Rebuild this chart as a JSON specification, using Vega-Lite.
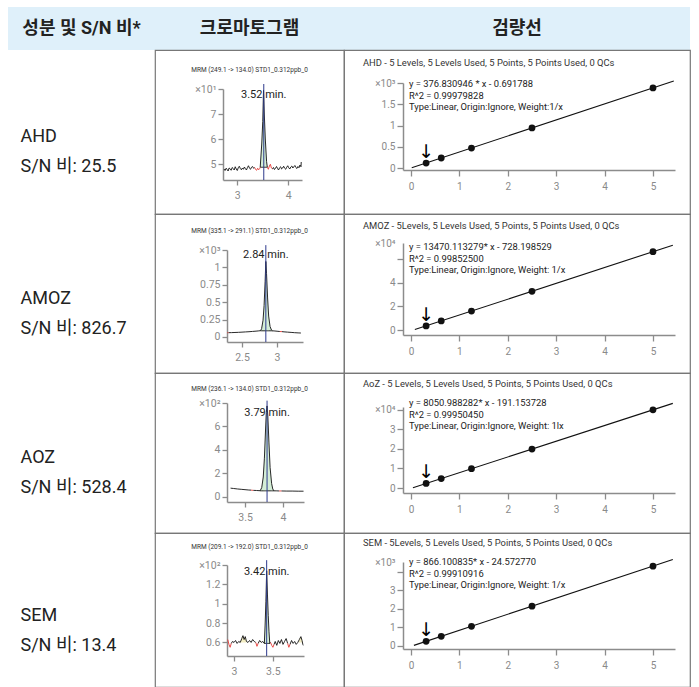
{
  "$schema": "https://vega.github.io/schema/vega-lite/v6.json",
  "padding": {"left": 8, "top": 7, "right": 0, "bottom": 0},
  "bounds": "flush",
  "spacing": 0,
  "columns": 3,
  "config": {
    "font": "Roboto",
    "view": {"stroke": "#777777", "strokeWidth": 1.2},
    "concat": {"spacing": 0},
    "axis": {"domainColor": "#8c8c8c", "domainWidth": 1.5, "tickColor": "#8c8c8c", "tickWidth": 1.3, "tickSize": 5, "tickCount": 30, "labelColor": "#8a8a8a", "labelFont": "Roboto", "labelFontSize": 10, "titleColor": "#8a8a8a", "titleFont": "Roboto", "titleFontSize": 10.5, "titleFontWeight": "normal", "grid": false, "labelFlush": false, "labelOverlap": false, "labelBound": false},
    "axisX": {"labelPadding": 5, "labelExpr": "'' + datum.value"},
    "axisY": {"labelPadding": 2}
  },
  "datasets": {
    "ahd_trace": [
      {"t":2.74,"v":48.0,"seg":"n1","kind":"noise"},{"t":2.76,"v":47.4,"seg":"n1","kind":"noise"},{"t":2.78,"v":48.3,"seg":"n1","kind":"noise"},{"t":2.80,"v":47.9,"seg":"n1","kind":"noise"},{"t":2.82,"v":47.2,"seg":"n1","kind":"noise"},{"t":2.84,"v":48.4,"seg":"n1","kind":"noise"},{"t":2.86,"v":48.1,"seg":"n1","kind":"noise"},{"t":2.88,"v":47.5,"seg":"n1","kind":"noise"},{"t":2.90,"v":48.6,"seg":"n1","kind":"noise"},{"t":2.92,"v":48.2,"seg":"n1","kind":"noise"},{"t":2.94,"v":47.6,"seg":"n1","kind":"noise"},{"t":2.96,"v":48.9,"seg":"n1","kind":"noise"},{"t":2.98,"v":48.0,"seg":"n1","kind":"noise"},{"t":3.00,"v":47.4,"seg":"n1","kind":"noise"},{"t":3.02,"v":48.5,"seg":"n1","kind":"noise"},{"t":3.04,"v":49.1,"seg":"n1","kind":"noise"},{"t":3.06,"v":48.2,"seg":"n1","kind":"noise"},{"t":3.08,"v":47.7,"seg":"n1","kind":"noise"},{"t":3.10,"v":48.4,"seg":"n1","kind":"noise"},{"t":3.12,"v":47.9,"seg":"n1","kind":"noise"},{"t":3.14,"v":48.8,"seg":"n1","kind":"noise"},{"t":3.16,"v":48.1,"seg":"n1","kind":"noise"},{"t":3.18,"v":47.6,"seg":"n1","kind":"noise"},{"t":3.20,"v":48.6,"seg":"n1","kind":"noise"},{"t":3.22,"v":49.3,"seg":"n1","kind":"noise"},{"t":3.24,"v":48.3,"seg":"n1","kind":"noise"},{"t":3.26,"v":47.9,"seg":"n1","kind":"noise"},{"t":3.28,"v":48.7,"seg":"n1","kind":"noise"},{"t":3.30,"v":49.0,"seg":"n1","kind":"noise"},{"t":3.32,"v":48.3,"seg":"n1","kind":"noise"},{"t":3.34,"v":48.6,"seg":"n1","kind":"noise"},
      {"t":3.34,"v":48.6,"seg":"r1","kind":"marked"},{"t":3.36,"v":47.8,"seg":"r1","kind":"marked"},{"t":3.38,"v":47.5,"seg":"r1","kind":"marked"},{"t":3.40,"v":48.3,"seg":"r1","kind":"marked"},{"t":3.42,"v":47.7,"seg":"r1","kind":"marked"},{"t":3.44,"v":48.2,"seg":"r1","kind":"marked"},{"t":3.45,"v":48.7,"seg":"r1","kind":"marked"},
      {"t":3.59,"v":48.7,"seg":"r2","kind":"marked"},{"t":3.61,"v":47.9,"seg":"r2","kind":"marked"},{"t":3.63,"v":49.2,"seg":"r2","kind":"marked"},{"t":3.65,"v":49.9,"seg":"r2","kind":"marked"},{"t":3.67,"v":48.4,"seg":"r2","kind":"marked"},{"t":3.69,"v":48.0,"seg":"r2","kind":"marked"},
      {"t":3.69,"v":48.0,"seg":"n2","kind":"noise"},{"t":3.71,"v":48.6,"seg":"n2","kind":"noise"},{"t":3.73,"v":47.8,"seg":"n2","kind":"noise"},{"t":3.75,"v":48.3,"seg":"n2","kind":"noise"},{"t":3.77,"v":49.0,"seg":"n2","kind":"noise"},{"t":3.79,"v":48.2,"seg":"n2","kind":"noise"},{"t":3.81,"v":47.6,"seg":"n2","kind":"noise"},{"t":3.83,"v":48.5,"seg":"n2","kind":"noise"},{"t":3.85,"v":48.9,"seg":"n2","kind":"noise"},{"t":3.87,"v":48.0,"seg":"n2","kind":"noise"},{"t":3.89,"v":48.4,"seg":"n2","kind":"noise"},{"t":3.91,"v":49.1,"seg":"n2","kind":"noise"},{"t":3.93,"v":48.3,"seg":"n2","kind":"noise"},{"t":3.95,"v":47.9,"seg":"n2","kind":"noise"},{"t":3.97,"v":48.7,"seg":"n2","kind":"noise"},{"t":3.99,"v":49.3,"seg":"n2","kind":"noise"},{"t":4.01,"v":48.5,"seg":"n2","kind":"noise"},{"t":4.03,"v":48.0,"seg":"n2","kind":"noise"},{"t":4.05,"v":48.8,"seg":"n2","kind":"noise"},{"t":4.07,"v":49.2,"seg":"n2","kind":"noise"},{"t":4.09,"v":48.4,"seg":"n2","kind":"noise"},{"t":4.11,"v":48.9,"seg":"n2","kind":"noise"},{"t":4.13,"v":49.4,"seg":"n2","kind":"noise"},{"t":4.15,"v":48.6,"seg":"n2","kind":"noise"},{"t":4.17,"v":48.2,"seg":"n2","kind":"noise"},{"t":4.19,"v":49.0,"seg":"n2","kind":"noise"},{"t":4.21,"v":48.5,"seg":"n2","kind":"noise"},{"t":4.23,"v":49.6,"seg":"n2","kind":"noise"},{"t":4.25,"v":48.9,"seg":"n2","kind":"noise"},{"t":4.255,"v":50.8,"seg":"n2","kind":"noise"}
    ],
    "ahd_peak": [
      {"t":3.45,"v":48.7,"base":48.7},{"t":3.48,"v":58,"base":48.7},{"t":3.50,"v":67,"base":48.7},{"t":3.515,"v":79.5,"base":48.7},{"t":3.53,"v":70,"base":48.7},{"t":3.55,"v":60,"base":48.7},{"t":3.575,"v":51,"base":48.7},{"t":3.59,"v":48.7,"base":48.7}
    ],
    "amoz_trace": [
      {"t":2.29,"v":60,"seg":"r1","kind":"marked"},{"t":2.31,"v":61,"seg":"r1","kind":"marked"},
      {"t":2.31,"v":61,"seg":"n1","kind":"noise"},{"t":2.35,"v":62,"seg":"n1","kind":"noise"},{"t":2.40,"v":64,"seg":"n1","kind":"noise"},{"t":2.45,"v":66,"seg":"n1","kind":"noise"},{"t":2.50,"v":69,"seg":"n1","kind":"noise"},{"t":2.55,"v":72,"seg":"n1","kind":"noise"},{"t":2.60,"v":75,"seg":"n1","kind":"noise"},{"t":2.65,"v":79,"seg":"n1","kind":"noise"},{"t":2.70,"v":83,"seg":"n1","kind":"noise"},{"t":2.74,"v":87,"seg":"n1","kind":"noise"},{"t":2.765,"v":90,"seg":"n1","kind":"noise"},
      {"t":2.935,"v":88,"seg":"n2","kind":"noise"},{"t":2.97,"v":85,"seg":"n2","kind":"noise"},{"t":3.00,"v":82,"seg":"n2","kind":"noise"},{"t":3.04,"v":78,"seg":"n2","kind":"noise"},
      {"t":3.04,"v":78,"seg":"r2","kind":"marked"},{"t":3.07,"v":76,"seg":"r2","kind":"marked"},
      {"t":3.07,"v":76,"seg":"n3","kind":"noise"},{"t":3.10,"v":73,"seg":"n3","kind":"noise"},{"t":3.15,"v":69,"seg":"n3","kind":"noise"},{"t":3.20,"v":65,"seg":"n3","kind":"noise"},{"t":3.25,"v":61,"seg":"n3","kind":"noise"},{"t":3.30,"v":58,"seg":"n3","kind":"noise"},{"t":3.34,"v":56,"seg":"n3","kind":"noise"}
    ],
    "amoz_peak": [
      {"t":2.765,"v":90,"base":88},{"t":2.78,"v":120,"base":88},{"t":2.80,"v":240,"base":88},{"t":2.815,"v":450,"base":88},{"t":2.83,"v":800,"base":88},{"t":2.84,"v":1085,"base":88},{"t":2.85,"v":910,"base":88},{"t":2.865,"v":560,"base":88},{"t":2.88,"v":300,"base":88},{"t":2.90,"v":150,"base":88},{"t":2.92,"v":100,"base":88},{"t":2.935,"v":88,"base":88}
    ],
    "aoz_trace": [
      {"t":3.31,"v":75,"seg":"n1","kind":"noise"},{"t":3.35,"v":72,"seg":"n1","kind":"noise"},{"t":3.40,"v":68,"seg":"n1","kind":"noise"},{"t":3.45,"v":65,"seg":"n1","kind":"noise"},{"t":3.50,"v":62,"seg":"n1","kind":"noise"},{"t":3.55,"v":59,"seg":"n1","kind":"noise"},{"t":3.58,"v":58,"seg":"n1","kind":"noise"},
      {"t":3.58,"v":58,"seg":"r1","kind":"marked"},{"t":3.61,"v":56,"seg":"r1","kind":"marked"},
      {"t":3.61,"v":56,"seg":"n2","kind":"noise"},{"t":3.65,"v":55,"seg":"n2","kind":"noise"},{"t":3.70,"v":53,"seg":"n2","kind":"noise"},
      {"t":3.88,"v":52,"seg":"n3","kind":"noise"},{"t":3.91,"v":52,"seg":"n3","kind":"noise"},{"t":3.95,"v":51,"seg":"n3","kind":"noise"},
      {"t":3.95,"v":51,"seg":"r2","kind":"marked"},{"t":3.98,"v":51,"seg":"r2","kind":"marked"},
      {"t":3.98,"v":51,"seg":"n4","kind":"noise"},{"t":4.05,"v":50,"seg":"n4","kind":"noise"},{"t":4.12,"v":50,"seg":"n4","kind":"noise"},{"t":4.20,"v":49,"seg":"n4","kind":"noise"},{"t":4.27,"v":49,"seg":"n4","kind":"noise"}
    ],
    "aoz_peak": [
      {"t":3.70,"v":53,"base":52},{"t":3.72,"v":80,"base":52},{"t":3.74,"v":170,"base":52},{"t":3.755,"v":330,"base":52},{"t":3.77,"v":570,"base":52},{"t":3.78,"v":720,"base":52},{"t":3.79,"v":775,"base":52},{"t":3.80,"v":690,"base":52},{"t":3.815,"v":460,"base":52},{"t":3.83,"v":250,"base":52},{"t":3.85,"v":115,"base":52},{"t":3.865,"v":68,"base":52},{"t":3.88,"v":52,"base":52}
    ],
    "sem_trace": [
      {"t":2.92,"v":63,"seg":"r1","kind":"marked"},{"t":2.935,"v":58,"seg":"r1","kind":"marked"},{"t":2.95,"v":55,"seg":"r1","kind":"marked"},{"t":2.965,"v":59,"seg":"r1","kind":"marked"},
      {"t":2.965,"v":59,"seg":"n1","kind":"noise"},{"t":2.98,"v":61,"seg":"n1","kind":"noise"},{"t":3.00,"v":60,"seg":"n1","kind":"noise"},{"t":3.02,"v":62,"seg":"n1","kind":"noise"},{"t":3.04,"v":59,"seg":"n1","kind":"noise"},{"t":3.06,"v":61,"seg":"n1","kind":"noise"},{"t":3.08,"v":60,"seg":"n1","kind":"noise"},{"t":3.10,"v":64,"seg":"n1","kind":"noise"},{"t":3.115,"v":67,"seg":"n1","kind":"noise"},{"t":3.13,"v":63,"seg":"n1","kind":"noise"},{"t":3.145,"v":66,"seg":"n1","kind":"noise"},{"t":3.16,"v":61,"seg":"n1","kind":"noise"},{"t":3.18,"v":60,"seg":"n1","kind":"noise"},{"t":3.20,"v":62,"seg":"n1","kind":"noise"},{"t":3.22,"v":60,"seg":"n1","kind":"noise"},{"t":3.24,"v":63,"seg":"n1","kind":"noise"},{"t":3.26,"v":61,"seg":"n1","kind":"noise"},{"t":3.28,"v":60,"seg":"n1","kind":"noise"},
      {"t":3.28,"v":60,"seg":"r2","kind":"marked"},{"t":3.295,"v":56,"seg":"r2","kind":"marked"},{"t":3.31,"v":59,"seg":"r2","kind":"marked"},
      {"t":3.31,"v":59,"seg":"n2","kind":"noise"},{"t":3.33,"v":62,"seg":"n2","kind":"noise"},{"t":3.35,"v":60,"seg":"n2","kind":"noise"},{"t":3.37,"v":61,"seg":"n2","kind":"noise"},{"t":3.39,"v":59,"seg":"n2","kind":"noise"},
      {"t":3.46,"v":59,"seg":"n3","kind":"noise"},{"t":3.47,"v":60,"seg":"n3","kind":"noise"},
      {"t":3.47,"v":60,"seg":"r3","kind":"marked"},{"t":3.485,"v":57,"seg":"r3","kind":"marked"},{"t":3.50,"v":55,"seg":"r3","kind":"marked"},{"t":3.515,"v":58,"seg":"r3","kind":"marked"},
      {"t":3.515,"v":58,"seg":"n4","kind":"noise"},{"t":3.53,"v":61,"seg":"n4","kind":"noise"},{"t":3.55,"v":57,"seg":"n4","kind":"noise"},{"t":3.57,"v":62,"seg":"n4","kind":"noise"},{"t":3.59,"v":59,"seg":"n4","kind":"noise"},{"t":3.61,"v":63,"seg":"n4","kind":"noise"},{"t":3.63,"v":58,"seg":"n4","kind":"noise"},{"t":3.65,"v":61,"seg":"n4","kind":"noise"},{"t":3.67,"v":64,"seg":"n4","kind":"noise"},{"t":3.69,"v":59,"seg":"n4","kind":"noise"},
      {"t":3.69,"v":59,"seg":"r4","kind":"marked"},{"t":3.705,"v":55,"seg":"r4","kind":"marked"},{"t":3.72,"v":58,"seg":"r4","kind":"marked"},
      {"t":3.72,"v":58,"seg":"n5","kind":"noise"},{"t":3.74,"v":62,"seg":"n5","kind":"noise"},{"t":3.76,"v":59,"seg":"n5","kind":"noise"},{"t":3.78,"v":61,"seg":"n5","kind":"noise"},{"t":3.80,"v":58,"seg":"n5","kind":"noise"},{"t":3.82,"v":60,"seg":"n5","kind":"noise"},{"t":3.84,"v":63,"seg":"n5","kind":"noise"},{"t":3.86,"v":66,"seg":"n5","kind":"noise"},{"t":3.875,"v":62,"seg":"n5","kind":"noise"},{"t":3.885,"v":58,"seg":"n5","kind":"noise"},{"t":3.89,"v":57,"seg":"n5","kind":"noise"}
    ],
    "sem_peak": [
      {"t":3.39,"v":59,"base":59},{"t":3.40,"v":78,"base":59},{"t":3.41,"v":102,"base":59},{"t":3.42,"v":134,"base":59},{"t":3.43,"v":110,"base":59},{"t":3.44,"v":88,"base":59},{"t":3.45,"v":71,"base":59},{"t":3.46,"v":59,"base":59}
    ],
    "sem_bumps": [
      {"t":3.08,"v":60,"base":60,"grp":"b1"},{"t":3.10,"v":64,"base":60,"grp":"b1"},{"t":3.115,"v":67,"base":60,"grp":"b1"},{"t":3.13,"v":63,"base":60,"grp":"b1"},{"t":3.145,"v":66,"base":60,"grp":"b1"},{"t":3.16,"v":61,"base":60,"grp":"b1"},{"t":3.165,"v":60,"base":60,"grp":"b1"},
      {"t":3.83,"v":60,"base":60,"grp":"b2"},{"t":3.84,"v":63,"base":60,"grp":"b2"},{"t":3.86,"v":66,"base":60,"grp":"b2"},{"t":3.875,"v":62,"base":60,"grp":"b2"},{"t":3.88,"v":60,"base":60,"grp":"b2"}
    ]
  },
  "concat": [
    {"width": 147, "height": 43, "view": {"fill": "#dff0fa"}, "data": {"values": [{"h": "성분 및 S/N 비*"}]}, "mark": {"type": "text", "fontSize": 18, "fontWeight": "bold", "color": "#222", "font": "Roboto, Noto Sans CJK KR", "baseline": "middle"}, "encoding": {"text": {"field": "h"}}},
    {"width": 189, "height": 43, "view": {"fill": "#dff0fa"}, "data": {"values": [{"h": "크로마토그램"}]}, "mark": {"type": "text", "fontSize": 18, "fontWeight": "bold", "color": "#222", "font": "Roboto, Noto Sans CJK KR", "baseline": "middle"}, "encoding": {"text": {"field": "h"}}},
    {"width": 346, "height": 43, "view": {"fill": "#dff0fa"}, "data": {"values": [{"h": "검량선"}]}, "mark": {"type": "text", "fontSize": 18, "fontWeight": "bold", "color": "#222", "font": "Roboto, Noto Sans CJK KR", "baseline": "middle"}, "encoding": {"text": {"field": "h"}}},

    {"width": 147, "height": 164, "data": {"values": [{"compound": "AHD", "ratio": "25.5"}]}, "transform": [{"calculate": "datum.compound + '\\n' + 'S/N 비: ' + datum.ratio", "as": "lines"}], "mark": {"type": "text", "align": "left", "baseline": "middle", "dx": -61, "dy": 5, "fontSize": 18, "lineHeight": 30, "lineBreak": "\n", "color": "#222", "font": "Roboto, Noto Sans CJK KR"}, "encoding": {"text": {"field": "lines"}}},
    {
      "width": 189, "height": 164,
      "title": {"text": "MRM (249.1 -> 134.0) STD1_0.312ppb_0", "anchor": "middle", "frame": "group", "offset": -28, "baseline": "alphabetic", "fontSize": 6.5, "fontWeight": "normal", "color": "#333", "font": "Roboto"},
      "layer": [
        {"data": {"name": "ahd_peak"}, "mark": {"type": "area", "fill": "#d4eed7", "stroke": "#111", "strokeWidth": 0.9},
         "encoding": {
           "x": {"field": "t", "type": "quantitative", "scale": {"domain": [2.72, 4.27], "range": [68, 147], "zero": false, "nice": false}, "axis": {"title": null, "values": [3, 4], "tickCount": 30, "offset": -34, "labelFontSize": 10.5, "labelOverlap": false}},
           "y": {"field": "v", "type": "quantitative", "scale": {"domain": [43.6, 80], "range": [130, 39], "zero": false, "nice": false}, "axis": {"title": null, "values": [50, 60, 70, 80], "tickCount": 30, "offset": -68, "labelFontSize": 10.5, "labelOverlap": false, "labelExpr": "datum.value >= 79 ? '×10¹' : format(datum.value / 10, 'd')"}},
           "y2": {"field": "base"}}},
        {"data": {"name": "ahd_trace"}, "mark": {"type": "line", "strokeWidth": 0.9},
         "encoding": {"x": {"field": "t", "type": "quantitative", "title": null}, "y": {"field": "v", "type": "quantitative", "title": null}, "detail": {"field": "seg"}, "color": {"field": "kind", "type": "nominal", "scale": {"domain": ["noise", "marked"], "range": ["#111111", "#e53935"]}, "legend": null}}},
        {"data": {"values": [{"t": 3.52, "label": "3.52 min."}]}, "mark": {"type": "rule", "color": "#2e3a8c", "strokeWidth": 1},
         "encoding": {"x": {"field": "t", "type": "quantitative", "title": null}, "y": {"datum": 82, "type": "quantitative"}, "y2": {"datum": 43.6}}},
        {"data": {"values": [{"t": 3.52, "label": "3.52 min."}]}, "mark": {"type": "text", "fontSize": 11, "color": "#222", "baseline": "middle", "align": "center", "dy": 6},
         "encoding": {"x": {"field": "t", "type": "quantitative", "title": null}, "y": {"datum": 80, "type": "quantitative"}, "text": {"field": "label"}}}
      ]
    },
    {
      "width": 346, "height": 164,
      "title": {"text": "AHD - 5 Levels, 5 Levels Used, 5 Points, 5 Points Used, 0 QCs", "anchor": "start", "frame": "group", "offset": -25, "dx": 19, "baseline": "alphabetic", "fontSize": 9.4, "fontWeight": "normal", "color": "#333", "font": "Roboto"},
      "layer": [
        {"data": {"values": [{"c": 0.015, "r": 5}, {"c": 5.43, "r": 2046}]}, "mark": {"type": "line", "color": "#111", "strokeWidth": 1.1},
         "encoding": {
           "x": {"field": "c", "type": "quantitative", "scale": {"domain": [-0.165, 5.455], "range": [59, 331], "zero": false, "nice": false}, "axis": {"title": "Concentration (ng/ml)", "titlePadding": 1, "values": [0, 1, 2, 3, 4, 5], "tickCount": 30, "offset": -44, "tickSize": 6, "labelOverlap": false}},
           "y": {"field": "r", "type": "quantitative", "scale": {"domain": [-47, 2000], "range": [120, 33], "zero": false, "nice": false}, "axis": {"title": "Responses", "titlePadding": 4, "values": [0, 500, 1000, 1500, 2000], "tickCount": 30, "offset": -59, "tickSize": 6, "labelOverlap": false, "labelExpr": "datum.value == 2000 ? '×10³' : '' + (datum.value / 1000)"}}}},
        {"data": {"values": [{"c": 0.3125, "r": 117}, {"c": 0.625, "r": 235}, {"c": 1.25, "r": 470}, {"c": 2.5, "r": 942}, {"c": 5, "r": 1884}]}, "mark": {"type": "circle", "size": 46, "color": "#111", "opacity": 1},
         "encoding": {"x": {"field": "c", "type": "quantitative", "title": null}, "y": {"field": "r", "type": "quantitative", "title": null}}},
        {"data": {"values": [{"c": 0.3125, "r": 117}]}, "mark": {"type": "text", "font": "DejaVu Sans", "fontSize": 19, "baseline": "bottom", "dy": -1, "color": "#000"},
         "encoding": {"x": {"field": "c", "type": "quantitative", "title": null}, "y": {"field": "r", "type": "quantitative", "title": null}, "text": {"value": "↓"}}},
        {"data": {"values": [{"lines": "y = 376.830946 * x - 0.691788\nR^2 = 0.99979828\nType:Linear, Origin:Ignore, Weight:1/x"}]}, "mark": {"type": "text", "align": "left", "baseline": "top", "fontSize": 9.4, "lineHeight": 11.5, "lineBreak": "\n", "dx": 6, "dy": -3, "color": "#222"},
         "encoding": {"x": {"datum": -0.165, "type": "quantitative"}, "y": {"datum": 2000, "type": "quantitative"}, "text": {"field": "lines"}}}
      ]
    },

    {"width": 147, "height": 159, "data": {"values": [{"compound": "AMOZ", "ratio": "826.7"}]}, "transform": [{"calculate": "datum.compound + '\\n' + 'S/N 비: ' + datum.ratio", "as": "lines"}], "mark": {"type": "text", "align": "left", "baseline": "middle", "dx": -61, "dy": 5, "fontSize": 18, "lineHeight": 30, "lineBreak": "\n", "color": "#222", "font": "Roboto, Noto Sans CJK KR"}, "encoding": {"text": {"field": "lines"}}},
    {
      "width": 189, "height": 159,
      "title": {"text": "MRM (335.1 -> 291.1) STD1_0.312ppb_0", "anchor": "middle", "frame": "group", "offset": -25, "baseline": "alphabetic", "fontSize": 6.5, "fontWeight": "normal", "color": "#333", "font": "Roboto"},
      "layer": [
        {"data": {"name": "amoz_peak"}, "mark": {"type": "area", "fill": "#d4eed7", "stroke": "#111", "strokeWidth": 0.9},
         "encoding": {
           "x": {"field": "t", "type": "quantitative", "scale": {"domain": [2.286, 3.37], "range": [72, 148], "zero": false, "nice": false}, "axis": {"title": null, "values": [2.5, 3], "tickCount": 30, "offset": -31, "labelFontSize": 10.5, "labelOverlap": false}},
           "y": {"field": "v", "type": "quantitative", "scale": {"domain": [-73, 1250], "range": [128, 36], "zero": false, "nice": false}, "axis": {"title": null, "values": [0, 250, 500, 750, 1000, 1250], "tickCount": 30, "offset": -72, "labelFontSize": 10.5, "labelOverlap": false, "labelExpr": "datum.value == 1250 ? '×10³' : '' + (datum.value / 1000)"}},
           "y2": {"field": "base"}}},
        {"data": {"name": "amoz_trace"}, "mark": {"type": "line", "strokeWidth": 0.9},
         "encoding": {"x": {"field": "t", "type": "quantitative", "title": null}, "y": {"field": "v", "type": "quantitative", "title": null}, "detail": {"field": "seg"}, "color": {"field": "kind", "type": "nominal", "scale": {"domain": ["noise", "marked"], "range": ["#111111", "#e53935"]}, "legend": null}}},
        {"data": {"values": [{"t": 2.84, "label": "2.84 min."}]}, "mark": {"type": "rule", "color": "#2e3a8c", "strokeWidth": 1},
         "encoding": {"x": {"field": "t", "type": "quantitative", "title": null}, "y": {"datum": 1320, "type": "quantitative"}, "y2": {"datum": -73}}},
        {"data": {"values": [{"t": 2.84, "label": "2.84 min."}]}, "mark": {"type": "text", "fontSize": 11, "color": "#222", "baseline": "middle", "align": "center", "dy": 5},
         "encoding": {"x": {"field": "t", "type": "quantitative", "title": null}, "y": {"datum": 1250, "type": "quantitative"}, "text": {"field": "label"}}}
      ]
    },
    {
      "width": 346, "height": 159,
      "title": {"text": "AMOZ - 5Levels, 5 Levels Used, 5 Points, 5 Points Used, 0 QCs", "anchor": "start", "frame": "group", "offset": -24, "dx": 19, "baseline": "alphabetic", "fontSize": 9.4, "fontWeight": "normal", "color": "#333", "font": "Roboto"},
      "layer": [
        {"data": {"values": [{"c": 0.08, "r": 350}, {"c": 5.41, "r": 72145}]}, "mark": {"type": "line", "color": "#111", "strokeWidth": 1.1},
         "encoding": {
           "x": {"field": "c", "type": "quantitative", "scale": {"domain": [-0.165, 5.455], "range": [59, 331], "zero": false, "nice": false}, "axis": {"title": "Concentration (ng/ml)", "titlePadding": 1, "values": [0, 1, 2, 3, 4, 5], "tickCount": 30, "offset": -38, "tickSize": 6, "labelOverlap": false}},
           "y": {"field": "r", "type": "quantitative", "scale": {"domain": [-4250, 74000], "range": [121, 29], "zero": false, "nice": false}, "axis": {"title": "Responses", "titlePadding": 4, "values": [0, 20000, 40000, 60000, 74000], "tickCount": 30, "offset": -59, "tickSize": 6, "labelOverlap": false, "tickOpacity": {"condition": {"test": "datum.value == 74000", "value": 0}, "value": 1}, "labelExpr": "datum.value == 74000 ? '×10⁴' : datum.value == 60000 ? '' : '' + (datum.value / 10000)"}}}},
        {"data": {"values": [{"c": 0.3125, "r": 3481}, {"c": 0.625, "r": 7690}, {"c": 1.25, "r": 16109}, {"c": 2.5, "r": 32947}, {"c": 5, "r": 66622}]}, "mark": {"type": "circle", "size": 46, "color": "#111", "opacity": 1},
         "encoding": {"x": {"field": "c", "type": "quantitative", "title": null}, "y": {"field": "r", "type": "quantitative", "title": null}}},
        {"data": {"values": [{"c": 0.3125, "r": 3481}]}, "mark": {"type": "text", "font": "DejaVu Sans", "fontSize": 19, "baseline": "bottom", "dy": -1, "color": "#000"},
         "encoding": {"x": {"field": "c", "type": "quantitative", "title": null}, "y": {"field": "r", "type": "quantitative", "title": null}, "text": {"value": "↓"}}},
        {"data": {"values": [{"lines": "y = 13470.113279* x - 728.198529\nR^2 = 0.99852500\nType:Linear, Origin:Ignore, Weight: 1/x"}]}, "mark": {"type": "text", "align": "left", "baseline": "top", "fontSize": 9.4, "lineHeight": 11.5, "lineBreak": "\n", "dx": 6, "dy": 0, "color": "#222"},
         "encoding": {"x": {"datum": -0.165, "type": "quantitative"}, "y": {"datum": 74000, "type": "quantitative"}, "text": {"field": "lines"}}}
      ]
    },

    {"width": 147, "height": 160, "data": {"values": [{"compound": "AOZ", "ratio": "528.4"}]}, "transform": [{"calculate": "datum.compound + '\\n' + 'S/N 비: ' + datum.ratio", "as": "lines"}], "mark": {"type": "text", "align": "left", "baseline": "middle", "dx": -61, "dy": 5, "fontSize": 18, "lineHeight": 30, "lineBreak": "\n", "color": "#222", "font": "Roboto, Noto Sans CJK KR"}, "encoding": {"text": {"field": "lines"}}},
    {
      "width": 189, "height": 160,
      "title": {"text": "MRM (236.1 -> 134.0) STD1_0.312ppb_0", "anchor": "middle", "frame": "group", "offset": -24, "baseline": "alphabetic", "fontSize": 6.5, "fontWeight": "normal", "color": "#333", "font": "Roboto"},
      "layer": [
        {"data": {"name": "aoz_peak"}, "mark": {"type": "area", "fill": "#d4eed7", "stroke": "#111", "strokeWidth": 0.9},
         "encoding": {
           "x": {"field": "t", "type": "quantitative", "scale": {"domain": [3.263, 4.276], "range": [72, 149], "zero": false, "nice": false}, "axis": {"title": null, "values": [3.5, 4], "tickCount": 30, "offset": -31, "labelFontSize": 10.5, "labelOverlap": false}},
           "y": {"field": "v", "type": "quantitative", "scale": {"domain": [-43, 800], "range": [129, 30], "zero": false, "nice": false}, "axis": {"title": null, "values": [0, 200, 400, 600, 800], "tickCount": 30, "offset": -72, "labelFontSize": 10.5, "labelOverlap": false, "labelExpr": "datum.value == 800 ? '×10²' : '' + (datum.value / 100)"}},
           "y2": {"field": "base"}}},
        {"data": {"name": "aoz_trace"}, "mark": {"type": "line", "strokeWidth": 0.9},
         "encoding": {"x": {"field": "t", "type": "quantitative", "title": null}, "y": {"field": "v", "type": "quantitative", "title": null}, "detail": {"field": "seg"}, "color": {"field": "kind", "type": "nominal", "scale": {"domain": ["noise", "marked"], "range": ["#111111", "#e53935"]}, "legend": null}}},
        {"data": {"values": [{"t": 3.79, "label": "3.79 min."}]}, "mark": {"type": "rule", "color": "#2e3a8c", "strokeWidth": 1},
         "encoding": {"x": {"field": "t", "type": "quantitative", "title": null}, "y": {"datum": 820, "type": "quantitative"}, "y2": {"datum": -43}}},
        {"data": {"values": [{"t": 3.79, "label": "3.79 min."}]}, "mark": {"type": "text", "fontSize": 11, "color": "#222", "baseline": "middle", "align": "center", "dy": 10},
         "encoding": {"x": {"field": "t", "type": "quantitative", "title": null}, "y": {"datum": 800, "type": "quantitative"}, "text": {"field": "label"}}}
      ]
    },
    {
      "width": 346, "height": 160,
      "title": {"text": "AoZ - 5 Levels, 5 Levels Used, 5 Points, 5 Points Used, 0 QCs", "anchor": "start", "frame": "group", "offset": -23, "dx": 19, "baseline": "alphabetic", "fontSize": 9.4, "fontWeight": "normal", "color": "#333", "font": "Roboto"},
      "layer": [
        {"data": {"values": [{"c": 0.04, "r": 131}, {"c": 5.41, "r": 43364}]}, "mark": {"type": "line", "color": "#111", "strokeWidth": 1.1},
         "encoding": {
           "x": {"field": "c", "type": "quantitative", "scale": {"domain": [-0.165, 5.455], "range": [59, 331], "zero": false, "nice": false}, "axis": {"title": "Concentration (ng/ml)", "titlePadding": 1, "values": [0, 1, 2, 3, 4, 5], "tickCount": 30, "offset": -40, "tickSize": 6, "labelOverlap": false}},
           "y": {"field": "r", "type": "quantitative", "scale": {"domain": [-2560, 41500], "range": [120, 34], "zero": false, "nice": false}, "axis": {"title": "Responses", "titlePadding": 4, "values": [0, 10000, 20000, 30000, 40000], "tickCount": 30, "offset": -59, "tickSize": 6, "labelOverlap": false, "labelExpr": "datum.value == 40000 ? '×10⁴' : '' + (datum.value / 10000)"}}}},
        {"data": {"values": [{"c": 0.3125, "r": 2325}, {"c": 0.625, "r": 4841}, {"c": 1.25, "r": 9873}, {"c": 2.5, "r": 19936}, {"c": 5, "r": 40064}]}, "mark": {"type": "circle", "size": 46, "color": "#111", "opacity": 1},
         "encoding": {"x": {"field": "c", "type": "quantitative", "title": null}, "y": {"field": "r", "type": "quantitative", "title": null}}},
        {"data": {"values": [{"c": 0.3125, "r": 2325}]}, "mark": {"type": "text", "font": "DejaVu Sans", "fontSize": 19, "baseline": "bottom", "dy": -1, "color": "#000"},
         "encoding": {"x": {"field": "c", "type": "quantitative", "title": null}, "y": {"field": "r", "type": "quantitative", "title": null}, "text": {"value": "↓"}}},
        {"data": {"values": [{"lines": "y = 8050.988282* x - 191.153728\nR^2 = 0.99950450\nType:Linear, Origin:Ignore, Weight: 1lx"}]}, "mark": {"type": "text", "align": "left", "baseline": "top", "fontSize": 9.4, "lineHeight": 11.5, "lineBreak": "\n", "dx": 6, "dy": -8, "color": "#222"},
         "encoding": {"x": {"datum": -0.165, "type": "quantitative"}, "y": {"datum": 41500, "type": "quantitative"}, "text": {"field": "lines"}}}
      ]
    },

    {"width": 147, "height": 154, "data": {"values": [{"compound": "SEM", "ratio": "13.4"}]}, "transform": [{"calculate": "datum.compound + '\\n' + 'S/N 비: ' + datum.ratio", "as": "lines"}], "mark": {"type": "text", "align": "left", "baseline": "middle", "dx": -61, "dy": 6, "fontSize": 18, "lineHeight": 30, "lineBreak": "\n", "color": "#222", "font": "Roboto, Noto Sans CJK KR"}, "encoding": {"text": {"field": "lines"}}},
    {
      "width": 189, "height": 154,
      "title": {"text": "MRM (209.1 -> 192.0) STD1_0.312ppb_0", "anchor": "middle", "frame": "group", "offset": -22, "baseline": "alphabetic", "fontSize": 6.5, "fontWeight": "normal", "color": "#333", "font": "Roboto"},
      "layer": [
        {"data": {"name": "sem_bumps"}, "mark": {"type": "area", "fill": "#f3eec3"},
         "encoding": {
           "x": {"field": "t", "type": "quantitative", "scale": {"domain": [2.91, 3.9], "range": [72, 149], "zero": false, "nice": false}, "axis": {"title": null, "values": [3, 3.5], "tickCount": 30, "offset": -31, "labelFontSize": 10.5, "labelOverlap": false}},
           "y": {"field": "v", "type": "quantitative", "scale": {"domain": [46, 140], "range": [123, 32], "zero": false, "nice": false}, "axis": {"title": null, "values": [60, 80, 100, 120, 140], "tickCount": 30, "offset": -72, "labelFontSize": 10.5, "labelOverlap": false, "labelExpr": "datum.value == 140 ? '×10²' : '' + (datum.value / 100)"}},
           "y2": {"field": "base"}, "detail": {"field": "grp"}}},
        {"data": {"name": "sem_peak"}, "mark": {"type": "area", "fill": "#d4eed7", "stroke": "#111", "strokeWidth": 0.9},
         "encoding": {"x": {"field": "t", "type": "quantitative", "title": null}, "y": {"field": "v", "type": "quantitative", "title": null}, "y2": {"field": "base"}}},
        {"data": {"name": "sem_trace"}, "mark": {"type": "line", "strokeWidth": 0.9},
         "encoding": {"x": {"field": "t", "type": "quantitative", "title": null}, "y": {"field": "v", "type": "quantitative", "title": null}, "detail": {"field": "seg"}, "color": {"field": "kind", "type": "nominal", "scale": {"domain": ["noise", "marked"], "range": ["#111111", "#e53935"]}, "legend": null}}},
        {"data": {"values": [{"t": 3.42, "label": "3.42 min."}]}, "mark": {"type": "rule", "color": "#2e3a8c", "strokeWidth": 1},
         "encoding": {"x": {"field": "t", "type": "quantitative", "title": null}, "y": {"datum": 145, "type": "quantitative"}, "y2": {"datum": 46}}},
        {"data": {"values": [{"t": 3.42, "label": "3.42 min."}]}, "mark": {"type": "text", "fontSize": 11, "color": "#222", "baseline": "middle", "align": "center", "dy": 7},
         "encoding": {"x": {"field": "t", "type": "quantitative", "title": null}, "y": {"datum": 140, "type": "quantitative"}, "text": {"field": "label"}}}
      ]
    },
    {
      "width": 346, "height": 154,
      "title": {"text": "SEM - 5Levels, 5 Levels Used, 5 Points, 5 Points Used, 0 QCs", "anchor": "start", "frame": "group", "offset": -22, "dx": 19, "baseline": "alphabetic", "fontSize": 9.4, "fontWeight": "normal", "color": "#333", "font": "Roboto"},
      "layer": [
        {"data": {"values": [{"c": 0.06, "r": 27}, {"c": 5.41, "r": 4661}]}, "mark": {"type": "line", "color": "#111", "strokeWidth": 1.1},
         "encoding": {
           "x": {"field": "c", "type": "quantitative", "scale": {"domain": [-0.165, 5.455], "range": [59, 331], "zero": false, "nice": false}, "axis": {"title": "Concentration (ng/ml)", "titlePadding": 1, "values": [0, 1, 2, 3, 4, 5], "tickCount": 30, "offset": -38, "tickSize": 6, "labelOverlap": false}},
           "y": {"field": "r", "type": "quantitative", "scale": {"domain": [-170, 4530], "range": [116, 29], "zero": false, "nice": false}, "axis": {"title": "Responses", "titlePadding": 4, "values": [0, 1000, 2000, 3000, 4000, 4530], "tickCount": 30, "offset": -59, "tickSize": 6, "labelOverlap": false, "tickOpacity": {"condition": {"test": "datum.value == 4530", "value": 0}, "value": 1}, "labelExpr": "datum.value == 4530 ? '×10³' : datum.value == 4000 ? '' : '' + (datum.value / 1000)"}}}},
        {"data": {"values": [{"c": 0.3125, "r": 246}, {"c": 0.625, "r": 517}, {"c": 1.25, "r": 1058}, {"c": 2.5, "r": 2141}, {"c": 5, "r": 4306}]}, "mark": {"type": "circle", "size": 46, "color": "#111", "opacity": 1},
         "encoding": {"x": {"field": "c", "type": "quantitative", "title": null}, "y": {"field": "r", "type": "quantitative", "title": null}}},
        {"data": {"values": [{"c": 0.3125, "r": 246}]}, "mark": {"type": "text", "font": "DejaVu Sans", "fontSize": 19, "baseline": "bottom", "dy": -1, "color": "#000"},
         "encoding": {"x": {"field": "c", "type": "quantitative", "title": null}, "y": {"field": "r", "type": "quantitative", "title": null}, "text": {"value": "↓"}}},
        {"data": {"values": [{"lines": "y = 866.100835* x - 24.572770\nR^2 = 0.99910916\nType:Linear, Origin:Ignore, Weight: 1/x"}]}, "mark": {"type": "text", "align": "left", "baseline": "top", "fontSize": 9.4, "lineHeight": 11.5, "lineBreak": "\n", "dx": 6, "dy": -4, "color": "#222"},
         "encoding": {"x": {"datum": -0.165, "type": "quantitative"}, "y": {"datum": 4530, "type": "quantitative"}, "text": {"field": "lines"}}}
      ]
    }
  ]
}
